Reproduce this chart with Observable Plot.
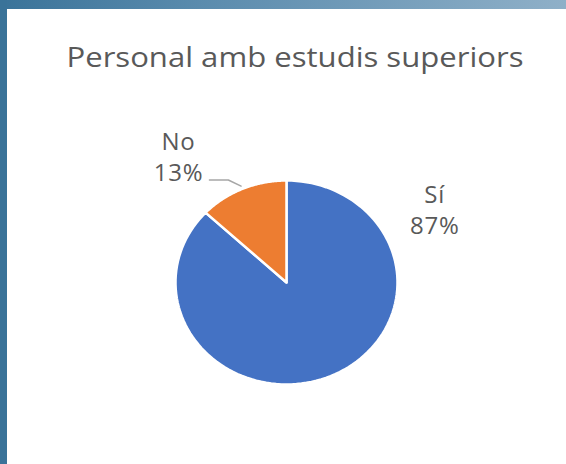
<!DOCTYPE html>
<html>
<head>
<meta charset="utf-8">
<script src="https://cdn.jsdelivr.net/npm/d3@7"></script>
<script src="https://cdn.jsdelivr.net/npm/@observablehq/plot@0.6"></script>
<style>
  html, body { margin: 0; padding: 0; background: #fff; }
  #frame { position: relative; width: 566px; height: 464px; overflow: hidden; background: #fff; font-family: "Open Sans", sans-serif; }
  #topbar { position: absolute; left: 0; top: 0; width: 566px; height: 9px; background: linear-gradient(to right, #3a7399, #5a8bad 35%, #8fb0c8); }
  #leftbar { position: absolute; left: 0; top: 0; width: 7px; height: 464px; background: #3a7399; }
  #title { position: absolute; left: 7px; top: 37px; width: 576px; text-align: center; font-size: 27.5px; color: #595959; white-space: nowrap; line-height: 40px; transform: scaleX(1.13); transform-origin: 288px 50%; }
  #chart { position: absolute; left: 7px; top: 9px; }
</style>
</head>
<body>
<div id="frame">
  <div id="topbar"></div>
  <div id="leftbar"></div>
  <div id="title">Personal amb estudis superiors</div>
  <div id="chart"></div>
</div>
<script>
const categories = ["Sí", "No"];
const values = [87, 13];
const valueLabels = ["87%", "13%"];
const colors = ["#4472c4", "#ed7d31"];

// layout (not data): label placement in unit-circle polar terms (degrees clockwise from top)
const labelPlacement = {"Sí": {angle: 61.5, r: 1.52}, "No": {angle: 322, r: 1.58}};

const arcs = d3.pie().sort(null).value(d => d)(values);
const polar = (a, r) => ({x: r * Math.sin(a), y: r * Math.cos(a)});

const slicePts = [];
arcs.forEach((arc, i) => {
  const cat = categories[i];
  slicePts.push({cat, ...polar(0, 0)});
  const n = 120;
  for (let k = 0; k <= n; k++) {
    const a = arc.startAngle + (arc.endAngle - arc.startAngle) * k / n;
    slicePts.push({cat, ...polar(a, 1)});
  }
  slicePts.push({cat, ...polar(0, 0)});
});

const labelData = categories.map((c, i) => {
  const p = labelPlacement[c];
  return {cat: c, text: c + "\n" + valueLabels[i], ...polar(p.angle * Math.PI / 180, p.r)};
});

// leader line for "No"
const noArc = arcs[1];
const mid = (noArc.startAngle + noArc.endAngle) / 2;
const end = polar(mid, 1.03);
const elbow = {x: end.x - 0.115, y: end.y + 0.06};
const start = {x: elbow.x - 0.17, y: elbow.y};
const leader = [start, elbow, end];

const chart = Plot.plot({
  width: 559,
  height: 455,
  margin: 0,
  x: {domain: [-1, 1], range: [168, 390], axis: null},
  y: {domain: [-1, 1], range: [375, 171], axis: null},
  color: {domain: categories, range: colors},
  style: {background: "transparent", fontFamily: "Open Sans, sans-serif", letterSpacing: "0.8px"},
  marks: [
    Plot.line(slicePts, {x: "x", y: "y", z: "cat", fill: "cat", stroke: "white", strokeWidth: 2.5, strokeLinejoin: "miter", curve: "linear"}),
    Plot.line(leader, {x: "x", y: "y", stroke: "#a6a6a6", strokeWidth: 1.5}),
    Plot.text(labelData, {x: "x", y: "y", text: "text", fontSize: 24, lineHeight: 1.28, fill: "#595959", textAnchor: "middle"})
  ]
});
document.getElementById("chart").appendChild(chart);
</script>
</body>
</html>
